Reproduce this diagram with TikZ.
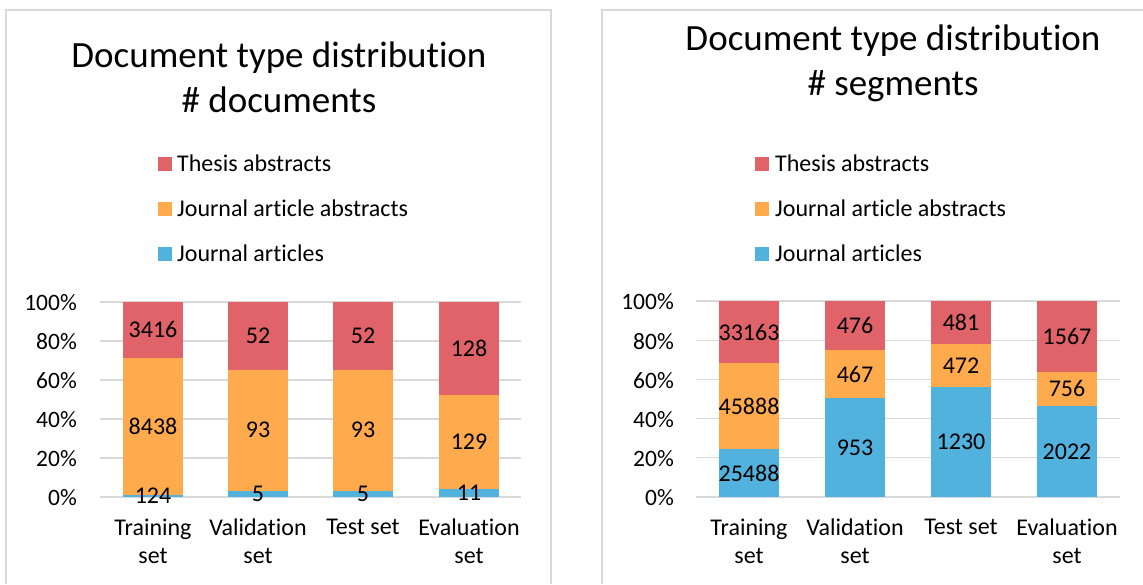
\documentclass[tikz,border=0pt]{standalone}
\usepackage{fontspec}
\setmainfont{Carlito}[Ligatures={NoCommon,NoContextual}]
\definecolor{thesis}{HTML}{E06369}
\definecolor{jabs}{HTML}{FFAA4D}
\definecolor{jart}{HTML}{51B2DD}
\definecolor{gridc}{HTML}{D9D9D9}
\newcommand{\stackbar}[3]{%
  \fill[jart] (#1-30,0) rectangle (#1+30,#2);
  \fill[jabs] (#1-30,#2) rectangle (#1+30,#3);
  \fill[thesis] (#1-30,#3) rectangle (#1+30,1);}
\tikzset{
  gridline/.style={draw=gridc, line width=1.3pt},
  frameline/.style={draw=gridc, line width=1.6pt},
  val/.style={font=\fontsize{24}{28}\selectfont, inner sep=0pt},
  tick/.style={font=\fontsize{23.5}{28}\selectfont, anchor=base east, inner sep=0pt},
  cat/.style={font=\fontsize{24}{28}\selectfont, anchor=north, align=center, inner sep=0pt},
  ttl/.style={font=\fontsize{37}{45}\selectfont, anchor=base, inner sep=0pt},
  legtxt/.style={font=\fontsize{24}{28}\selectfont, anchor=base west, inner sep=0pt},
  legsq/.style={minimum size=14pt, inner sep=0pt, draw=none}
}
\begin{document}
\begin{tikzpicture}[x=1pt,y=1pt]
\useasboundingbox[fill=white] (0,0) rectangle (1143,-584);
% frames
\draw[frameline] (6,-584) -- (6,-10) -- (551,-10) -- (551,-584);
\draw[frameline] (602,-584) -- (602,-10) -- (1143,-10);

% ---------- left chart ----------
\node[ttl] (tl1) at (279,-67) {Document type distribution};
\node[ttl] (tl2) at (279,-112) {\# documents};
\node[legsq, fill=thesis] (lsq1) at (165,-164) {};
\node[legtxt] (lt1) at (177,-171) {Thesis abstracts};
\node[legsq, fill=jabs] (lsq2) at (165,-209) {};
\node[legtxt] (lt2) at (177,-216) {Journal article abstracts};
\node[legsq, fill=jart] (lsq3) at (165,-254) {};
\node[legtxt] (lt3) at (177,-261) {Journal articles};
\begin{scope}[shift={(0,-497)}, y=195pt]
  \foreach \g in {0,0.2,0.4,0.6,0.8,1} { \draw[gridline] (100,\g) -- (521,\g); }
  \stackbar{153}{0.01035}{0.7148}
  \stackbar{258}{0.0333}{0.6533}
  \stackbar{363}{0.0333}{0.6533}
  \stackbar{469}{0.0410}{0.5224}
  \node[val] (la1) at (153,0.0052) {124};
  \node[val] (la2) at (153,0.3626) {8438};
  \node[val] (la3) at (153,0.8574) {3416};
  \node[val] (lb1) at (258,0.0167) {5};
  \node[val] (lb2) at (258,0.3433) {93};
  \node[val] (lb3) at (258,0.8267) {52};
  \node[val] (lc1) at (363,0.0167) {5};
  \node[val] (lc2) at (363,0.3433) {93};
  \node[val] (lc3) at (363,0.8267) {52};
  \node[val] (ld1) at (469,0.0205) {11};
  \node[val] (ld2) at (469,0.2817) {129};
  \node[val] (ld3) at (469,0.7612) {128};
\end{scope}
\node[tick] (ly0) at (77,-505) {0\%};
\node[tick] (ly1) at (77,-466) {20\%};
\node[tick] (ly2) at (77,-427) {40\%};
\node[tick] (ly3) at (77,-388) {60\%};
\node[tick] (ly4) at (77,-349) {80\%};
\node[tick] (ly5) at (77,-310) {100\%};
\node[cat] (lx1) at (153,-519) {Training\\set};
\node[cat] (lx2) at (258,-519) {Validation\\set};
\node[cat] (lx3) at (363,-519) {Test set};
\node[cat] (lx4) at (469,-519) {Evaluation\\set};

% ---------- right chart ----------
\node[ttl] (tr1) at (893,-50) {Document type distribution};
\node[ttl] (tr2) at (893,-95) {\# segments};
\node[legsq, fill=thesis] (rsq1) at (762,-164) {};
\node[legtxt] (rt1) at (775,-171) {Thesis abstracts};
\node[legsq, fill=jabs] (rsq2) at (762,-209) {};
\node[legtxt] (rt2) at (775,-216) {Journal article abstracts};
\node[legsq, fill=jart] (rsq3) at (762,-254) {};
\node[legtxt] (rt3) at (775,-261) {Journal articles};
\begin{scope}[shift={(0,-497)}, y=196pt]
  \foreach \g in {0,0.2,0.4,0.6,0.8,1} { \draw[gridline] (696,\g) -- (1120,\g); }
  \stackbar{749}{0.2438}{0.6828}
  \stackbar{855}{0.5026}{0.7490}
  \stackbar{961}{0.5635}{0.7797}
  \stackbar{1067}{0.4654}{0.6394}
  \node[val] (ra1) at (749,0.1219) {25488};
  \node[val] (ra2) at (749,0.4633) {45888};
  \node[val] (ra3) at (749,0.8414) {33163};
  \node[val] (rb1) at (855,0.2513) {953};
  \node[val] (rb2) at (855,0.6258) {467};
  \node[val] (rb3) at (855,0.8745) {476};
  \node[val] (rc1) at (961,0.2817) {1230};
  \node[val] (rc2) at (961,0.6716) {472};
  \node[val] (rc3) at (961,0.8898) {481};
  \node[val] (rd1) at (1067,0.2327) {2022};
  \node[val] (rd2) at (1067,0.5524) {756};
  \node[val] (rd3) at (1067,0.8197) {1567};
\end{scope}
\node[tick] (ry0) at (674,-505) {0\%};
\node[tick] (ry1) at (674,-466) {20\%};
\node[tick] (ry2) at (674,-427) {40\%};
\node[tick] (ry3) at (674,-388) {60\%};
\node[tick] (ry4) at (674,-349) {80\%};
\node[tick] (ry5) at (674,-309) {100\%};
\node[cat] (rx1) at (749,-519) {Training\\set};
\node[cat] (rx2) at (855,-519) {Validation\\set};
\node[cat] (rx3) at (961,-519) {Test set};
\node[cat] (rx4) at (1067,-519) {Evaluation\\set};
\end{tikzpicture}
\end{document}
